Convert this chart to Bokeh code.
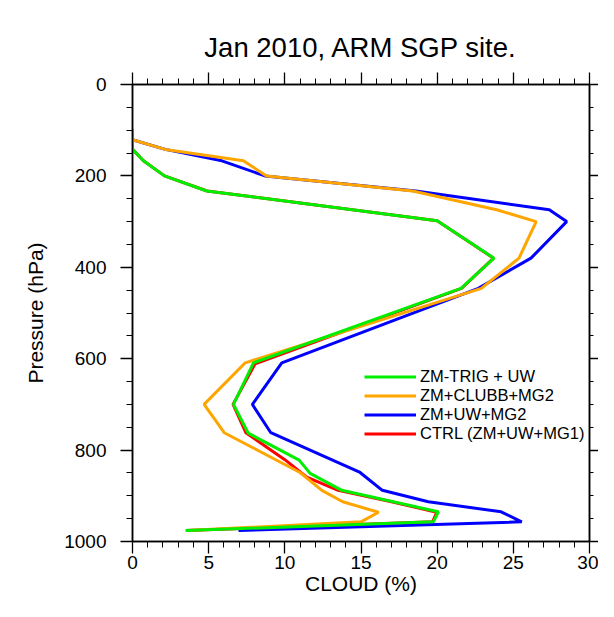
from bokeh.plotting import figure
from bokeh.models import (Range1d, LinearAxis, SingleIntervalTicker, Legend, LegendItem,
                          CustomJSTickFormatter)
from bokeh.embed import file_html
from bokeh.resources import INLINE

title_text = "Jan 2010, ARM SGP site."
x_label = "CLOUD (%)"
y_label = "Pressure (hPa)"

series_names = ["ZM-TRIG + UW", "ZM+CLUBB+MG2", "ZM+UW+MG2", "CTRL (ZM+UW+MG1)"]
series_colors = ["#00ee00", "#ffa500", "#0000ff", "#ff0000"]

trig_p = [98, 142, 167, 200, 233, 298, 380, 446, 609, 700, 763, 822, 851, 888, 935, 957, 976]
trig_cloud = [0.0, 0.0, 0.72, 2.1, 4.88, 20.0, 23.73, 21.57, 7.94, 6.63, 7.6, 10.94, 11.66, 13.74, 20.08, 19.75, 3.5]

clubb_p = [121, 142, 167, 200, 233, 274, 300, 380, 446, 609, 700, 762, 849, 888, 913, 936, 957, 976]
clubb_cloud = [0.0, 2.15, 7.28, 8.8, 18.4, 23.9, 26.5, 25.37, 22.9, 7.4, 4.7, 6.02, 11.0, 12.43, 13.8, 16.15, 15.0, 3.57]

uwmg2_p = [121, 142, 167, 200, 233, 274, 300, 380, 446, 609, 700, 762, 849, 888, 913, 935, 957, 976]
uwmg2_cloud = [0.0, 2.15, 5.87, 8.7, 18.6, 27.36, 28.5, 26.16, 22.7, 9.8, 7.87, 9.08, 14.94, 16.4, 19.42, 24.2, 25.55, 6.96]

ctrl_p = [98, 142, 167, 200, 233, 298, 380, 446, 611, 700, 762, 821, 859, 888, 913, 936, 957, 976]
ctrl_cloud = [0.0, 0.0, 0.72, 2.1, 4.9, 20.0, 23.7, 21.6, 8.05, 6.6, 7.44, 10.0, 11.44, 13.5, 17.0, 19.97, 19.7, 3.5]

FONT = "Liberation Sans"

p = figure(width=598, height=601, output_backend="svg", toolbar_location=None,
           x_range=Range1d(0, 30), y_range=Range1d(1000, 0),
           x_axis_location=None, y_axis_location=None,
           min_border_left=132, min_border_right=9, min_border_top=84, min_border_bottom=60)
p.xgrid.visible = False
p.ygrid.visible = False
p.outline_line_color = "black"
p.outline_line_width = 1.5

p.title.text = title_text
p.title.text_font = FONT
p.title.text_font_size = "27.5px"
p.title.text_font_style = "normal"
p.title.text_color = "black"
p.title.align = "center"
p.title.offset = 5
p.title.standoff = 20


def style(ax, labels=True, tick=12):
    ax.axis_line_color = "black"
    ax.axis_line_width = 1.5
    ax.major_tick_line_color = "black"
    ax.minor_tick_line_color = "black"
    ax.major_tick_line_width = 1.3
    ax.minor_tick_line_width = 1.0
    ax.major_tick_out = tick
    ax.major_tick_in = 0
    ax.minor_tick_out = tick // 2
    ax.minor_tick_in = 0
    ax.major_label_text_font = FONT
    ax.major_label_text_color = "black"
    ax.axis_label_text_font = FONT
    ax.axis_label_text_font_style = "normal"
    ax.axis_label_text_color = "black"
    if labels:
        ax.major_label_text_font_size = "19px"
        ax.axis_label_text_font_size = "21px"
    else:
        ax.formatter = CustomJSTickFormatter(code="return ''")
        ax.major_label_text_font_size = "1px"
        ax.major_label_standoff = 0


xt = SingleIntervalTicker(interval=5, num_minor_ticks=5)
yt = SingleIntervalTicker(interval=200, num_minor_ticks=4)

bx = LinearAxis(ticker=xt, axis_label=x_label)
style(bx)
bx.major_label_standoff = 2
bx.axis_label_standoff = 0
p.add_layout(bx, "below")

tx = LinearAxis(ticker=xt)
style(tx, labels=False)
p.add_layout(tx, "above")

ly = LinearAxis(ticker=yt, axis_label=y_label)
style(ly)
ly.major_label_standoff = 14
ly.axis_label_standoff = 14
p.add_layout(ly, "left")

ry = LinearAxis(ticker=yt)
style(ry, labels=False, tick=9)
p.add_layout(ry, "right")

r_ctrl = p.line(ctrl_cloud, ctrl_p, line_color=series_colors[3], line_width=3)
r_uw = p.line(uwmg2_cloud, uwmg2_p, line_color=series_colors[2], line_width=3)
r_clubb = p.line(clubb_cloud, clubb_p, line_color=series_colors[1], line_width=3)
r_trig = p.line(trig_cloud, trig_p, line_color=series_colors[0], line_width=3)

legend = Legend(items=[LegendItem(label=series_names[0], renderers=[r_trig]),
                       LegendItem(label=series_names[1], renderers=[r_clubb]),
                       LegendItem(label=series_names[2], renderers=[r_uw]),
                       LegendItem(label=series_names[3], renderers=[r_ctrl])],
                location=(232, 98))
legend.border_line_color = None
legend.background_fill_alpha = 0
legend.padding = 0
legend.margin = 0
legend.spacing = 0
legend.glyph_width = 52
legend.glyph_height = 17
legend.label_height = 17
legend.label_standoff = 4
legend.label_text_font = FONT
legend.label_text_font_size = "16.5px"
legend.label_text_color = "black"
p.add_layout(legend, "center")

open("out.html", "w").write(file_html(p, INLINE))
